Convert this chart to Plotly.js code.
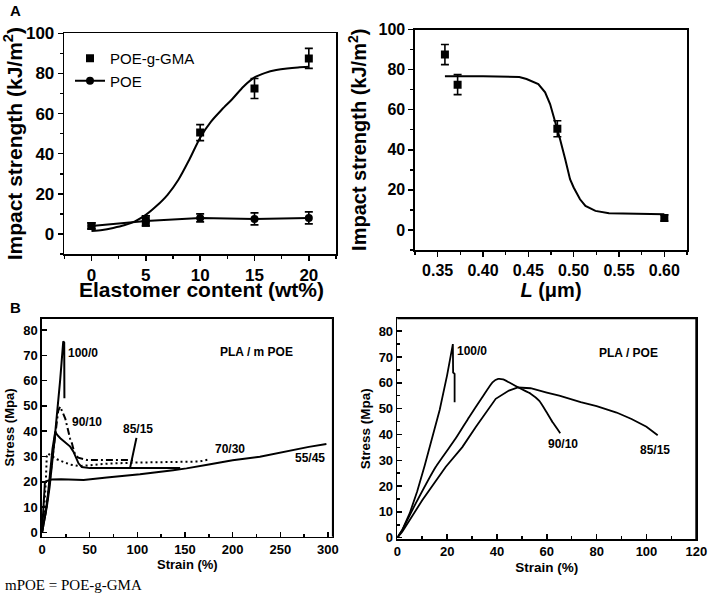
<!DOCTYPE html>
<html>
<head>
<meta charset="utf-8">
<script src="https://cdn.plot.ly/plotly-3.0.1.min.js"></script>
<style>html,body{margin:0;padding:0;background:#fff;}#chart{width:708px;height:595px;}</style>
</head>
<body>
<div id="chart"></div>
<script>
// ---------- Panel A (left): impact strength vs elastomer content ----------
const elastomerContent = [0, 5, 10, 15, 20];
const gmaImpact = [4, 6.5, 50.5, 72.5, 87.5];
const gmaErr = [1.5, 2.5, 4, 5, 5];
const poeImpact = [4, 6.5, 8, 7.5, 8];
const poeErr = [1.5, 2.5, 2, 3, 3];
const gmaFitX = [0, 1, 2, 3, 4, 5, 6, 7, 8, 9, 10, 11, 12, 13, 14, 15, 16, 17, 18, 19, 20];
const gmaFitY = [1.5, 2, 3, 4.3, 6.3, 9.5, 14, 19.5, 27, 37, 48, 56, 62, 67.5, 73.5, 78, 80.3, 81.7, 82.5, 83, 83.3];

// ---------- Panel A (right): impact strength vs L ----------
const ligamentL = [0.358, 0.372, 0.482, 0.600];
const lImpact = [87.5, 72.5, 50.5, 6];
const lErr = [5, 5, 4, 1.5];
const lFitX = [0.358, 0.40, 0.44, 0.448, 0.461, 0.4685, 0.474, 0.4796, 0.485, 0.4907, 0.496, 0.500, 0.507, 0.513, 0.524, 0.539, 0.600];
const lFitY = [76.7, 76.7, 76.3, 75.3, 72.8, 68.7, 62.8, 54.5, 45.3, 35.3, 25.3, 21.2, 15.3, 12, 9.5, 8.3, 7.8];

// ---------- Panel B (left): PLA / mPOE stress-strain ----------
const m100Strain = [0, 2, 5, 8, 11, 13, 15, 17, 19, 20.5, 21.5, 22.3, 23.3, 23.5];
const m100Stress = [0, 4, 10, 18, 28, 36, 44, 51, 60, 67, 72, 75.5, 75, 53];
const m90Strain = [0, 3, 6, 10, 14, 17, 19, 21, 24.4, 26, 27.9, 29.5, 31.4, 34, 38, 47, 70, 92, 98];
const m90Stress = [0, 6, 14, 26, 40, 48, 49.7, 48, 45, 42.5, 39.1, 37, 35.2, 31.5, 29.5, 28.6, 28.6, 28.6, 28.3];
const m85Strain = [0, 3, 6, 9, 11, 13.9, 16, 19.2, 24, 29.6, 33, 36, 38.3, 41.8, 50, 100, 145];
const m85Stress = [0, 6, 14, 24, 33, 39.8, 38.5, 37.2, 35.5, 33.9, 31.9, 29.5, 27.3, 25.8, 25.4, 25.4, 25.4];
const m70Strain = [0, 2, 4, 5, 6, 10, 15.7, 20, 29.6, 40, 50, 70, 100, 140, 165, 175];
const m70Stress = [0, 8, 20, 30, 31.2, 30.2, 28.9, 28.2, 26.8, 26.2, 26.5, 27.2, 27.6, 27.7, 28, 28.8];
const m55Strain = [0, 1, 2, 3, 5, 10, 20, 43.6, 68, 102.8, 137.6, 151.6, 175, 200, 228.6, 260, 280, 298.4];
const m55Stress = [0, 8, 15, 19.5, 20.3, 20.9, 21, 20.7, 21.7, 23, 24.6, 25.3, 26.8, 28.5, 29.9, 32.3, 33.8, 34.9];

// ---------- Panel B (right): PLA / POE stress-strain ----------
const p100Strain = [0, 2, 5, 8, 11, 14, 17, 20, 21.5, 22.3, 22.4, 23, 23, 23];
const p100Stress = [0, 3, 9.5, 18, 28, 38.5, 49.5, 63, 71, 75, 64, 63.5, 60, 52.5];
const p90Strain = [0, 2, 7.4, 15.4, 23.4, 28.8, 34.1, 38.2, 40.5, 42.5, 44.8, 49.8, 53.5, 57, 60, 62.5, 65.4];
const p90Stress = [0, 3, 13.3, 27.4, 38.4, 46.7, 54.4, 60.2, 61.5, 61.3, 60.2, 57.6, 55.8, 53, 48.5, 44.5, 40.5];
const p85Strain = [0, 2, 10, 19.4, 26.1, 31.5, 39.5, 44.8, 48.4, 53.5, 60, 65, 73.6, 80, 88, 94, 100, 104.5];
const p85Stress = [0, 2.3, 14.5, 27.4, 35.1, 42.9, 53.8, 57, 58.2, 57.9, 56.2, 55, 52.5, 51, 48.5, 46, 43, 39.7];

// ---------- helpers ----------
const W = 708, H = 595;
const px = v => v / W;
const py = v => 1 - v / H;
const dx = (l, r) => [px(l), px(r)];
const dy = (t, b) => [py(b), py(t)];
const FONT = 'Liberation Sans, Arial, sans-serif';

// plot-area boxes (pixels): [left, right, top, bottom]
const boxA1 = [64.3, 336, 33.3, 254];
const boxA2 = [415, 687, 29.5, 250];
const boxB1 = [42, 332.7, 318.3, 536.7];
const boxB2 = [397.3, 696.3, 318.3, 539];

function baseAxis(extra) {
  return Object.assign({
    showgrid: false, zeroline: false, showline: true, mirror: true,
    linecolor: '#000', linewidth: 1.6,
    ticks: 'outside', ticklen: 5, tickwidth: 1.5, tickcolor: '#000',
    tickfont: {family: FONT, size: 13, color: '#000', weight: 700},
    fixedrange: true
  }, extra);
}

const lineBlk = (w, dash) => ({color: '#000', width: w, dash: dash || 'solid'});

const traces = [
  // Panel A left
  {x: elastomerContent, y: gmaImpact, xaxis: 'x', yaxis: 'y', type: 'scatter', mode: 'markers', name: 'POE-g-GMA',
   marker: {symbol: 'square', size: 8, color: '#000'},
   error_y: {type: 'data', array: gmaErr, visible: true, color: '#000', thickness: 1.6, width: 4}},
  {x: elastomerContent, y: poeImpact, xaxis: 'x', yaxis: 'y', type: 'scatter', mode: 'lines+markers', name: 'POE',
   line: lineBlk(2), marker: {symbol: 'circle', size: 8, color: '#000'},
   error_y: {type: 'data', array: poeErr, visible: true, color: '#000', thickness: 1.6, width: 4}},
  {x: gmaFitX, y: gmaFitY, xaxis: 'x', yaxis: 'y', type: 'scatter', mode: 'lines', showlegend: false,
   line: Object.assign(lineBlk(2), {shape: 'spline', smoothing: 0.8})},
  // Panel A right
  {x: lFitX, y: lFitY, xaxis: 'x2', yaxis: 'y2', type: 'scatter', mode: 'lines', showlegend: false,
   line: lineBlk(2)},
  {x: ligamentL, y: lImpact, xaxis: 'x2', yaxis: 'y2', type: 'scatter', mode: 'markers', showlegend: false,
   marker: {symbol: 'square', size: 8, color: '#000'},
   error_y: {type: 'data', array: lErr, visible: true, color: '#000', thickness: 1.6, width: 4}},
  // Panel B left
  {x: m100Strain, y: m100Stress, xaxis: 'x3', yaxis: 'y3', type: 'scatter', mode: 'lines', showlegend: false, line: lineBlk(2)},
  {x: m90Strain, y: m90Stress, xaxis: 'x3', yaxis: 'y3', type: 'scatter', mode: 'lines', showlegend: false, line: lineBlk(2, '7px,3px,2px,3px')},
  {x: m85Strain, y: m85Stress, xaxis: 'x3', yaxis: 'y3', type: 'scatter', mode: 'lines', showlegend: false, line: lineBlk(2)},
  {x: m70Strain, y: m70Stress, xaxis: 'x3', yaxis: 'y3', type: 'scatter', mode: 'lines', showlegend: false, line: lineBlk(2, '2px,3px')},
  {x: m55Strain, y: m55Stress, xaxis: 'x3', yaxis: 'y3', type: 'scatter', mode: 'lines', showlegend: false, line: lineBlk(2)},
  // Panel B right
  {x: p100Strain, y: p100Stress, xaxis: 'x4', yaxis: 'y4', type: 'scatter', mode: 'lines', showlegend: false, line: lineBlk(1.8)},
  {x: p90Strain, y: p90Stress, xaxis: 'x4', yaxis: 'y4', type: 'scatter', mode: 'lines', showlegend: false, line: Object.assign(lineBlk(1.8), {shape: 'spline', smoothing: 0.5})},
  {x: p85Strain, y: p85Stress, xaxis: 'x4', yaxis: 'y4', type: 'scatter', mode: 'lines', showlegend: false, line: lineBlk(1.8)}
];

const lbl = (text, x, y, xr, yr, anchor) => ({
  text: text, x: x, y: y, xref: xr, yref: yr, showarrow: false, xanchor: anchor || 'center', yanchor: 'middle',
  font: {family: FONT, size: 12, color: '#000', weight: 700}
});

// frame lines (top and right spines) for the stress-strain panels, in paper coordinates
const frameLines = (b, w) => [
  {type: 'line', xref: 'paper', yref: 'paper', x0: px(b[0]), x1: px(b[1]), y0: py(b[2]), y1: py(b[2]), line: {color: '#000', width: w}, layer: 'above'},
  {type: 'line', xref: 'paper', yref: 'paper', x0: px(b[1]), x1: px(b[1]), y0: py(b[3]), y1: py(b[2]), line: {color: '#000', width: w}, layer: 'above'}
];

const layout = {
  width: W, height: H,
  margin: {l: 0, r: 0, t: 0, b: 0},
  paper_bgcolor: '#fff', plot_bgcolor: 'rgba(0,0,0,0)',
  font: {family: FONT, color: '#000'},
  showlegend: true,
  legend: {x: 70 / W, y: 1 - 42 / H, xanchor: 'left', yanchor: 'top', bgcolor: 'rgba(0,0,0,0)',
           font: {family: FONT, size: 15, color: '#000'}, itemwidth: 30, tracegroupgap: 0},
  xaxis: baseAxis({domain: dx(boxA1[0], boxA1[1]), anchor: 'y', range: [-2.5, 22.5], tick0: 0, dtick: 5,
    minor: {ticks: 'outside', dtick: 2.5, ticklen: 3, tickwidth: 1.5, tickcolor: '#000'},
    tickfont: {family: FONT, size: 17, color: '#000', weight: 700}}),
  yaxis: baseAxis({domain: dy(boxA1[2], boxA1[3]), anchor: 'x', range: [-10, 100], tick0: 0, dtick: 20,
    minor: {ticks: 'outside', dtick: 10, ticklen: 3, tickwidth: 1.5, tickcolor: '#000'},
    tickfont: {family: FONT, size: 17, color: '#000', weight: 700},
    title: {text: 'Impact strength (kJ/m<sup>2</sup>)', font: {family: FONT, size: 21, color: '#000', weight: 700}, standoff: 8}}),
  xaxis2: baseAxis({domain: dx(boxA2[0], boxA2[1]), anchor: 'y2', range: [0.325, 0.625], tick0: 0.35, dtick: 0.05, tickformat: '.2f',
    minor: {ticks: 'outside', dtick: 0.025, ticklen: 3, tickwidth: 1.5, tickcolor: '#000'},
    tickfont: {family: FONT, size: 16, color: '#000', weight: 700},
    title: {text: '<i>L</i> (μm)', font: {family: FONT, size: 20, color: '#000', weight: 700}, standoff: 1}}),
  yaxis2: baseAxis({domain: dy(boxA2[2], boxA2[3]), anchor: 'x2', range: [-10, 100], tick0: 0, dtick: 20,
    minor: {ticks: 'outside', dtick: 10, ticklen: 3, tickwidth: 1.5, tickcolor: '#000'},
    tickfont: {family: FONT, size: 16, color: '#000', weight: 700},
    title: {text: 'Impact strength (kJ/m<sup>2</sup>)', font: {family: FONT, size: 20, color: '#000', weight: 700}, standoff: 6}}),
  xaxis3: baseAxis({domain: dx(boxB1[0], boxB1[1]), anchor: 'y3', range: [0, 305], tick0: 0, dtick: 50, ticks: 'inside', ticklen: 5,
    minor: {ticks: 'inside', dtick: 25, ticklen: 3, tickwidth: 1.5, tickcolor: '#000'},
    title: {text: 'Strain (%)', font: {family: FONT, size: 13, color: '#000', weight: 700}, standoff: 3}}),
  yaxis3: baseAxis({domain: dy(boxB1[2], boxB1[3]), anchor: 'x3', range: [-1.7, 84.6], tick0: 0, dtick: 10, ticks: 'inside', ticklen: 5,
    title: {text: 'Stress (Mpa)', font: {family: FONT, size: 13, color: '#000', weight: 700}, standoff: 6}}),
  xaxis4: baseAxis({domain: dx(boxB2[0], boxB2[1]), anchor: 'y4', range: [0, 120], tick0: 0, dtick: 20, ticks: 'inside', ticklen: 5,
    minor: {ticks: 'inside', dtick: 10, ticklen: 3, tickwidth: 1.5, tickcolor: '#000'},
    title: {text: 'Strain (%)', font: {family: FONT, size: 13.5, color: '#000', weight: 700}, standoff: 4}}),
  yaxis4: baseAxis({domain: dy(boxB2[2], boxB2[3]), anchor: 'x4', range: [-0.5, 85], tick0: 0, dtick: 10, ticks: 'inside', ticklen: 5,
    minor: {ticks: 'inside', dtick: 5, ticklen: 3, tickwidth: 1.5, tickcolor: '#000'},
    title: {text: 'Stress (Mpa)', font: {family: FONT, size: 13.5, color: '#000', weight: 700}, standoff: 5}}),
  shapes: [].concat(frameLines(boxB1, 1.6), frameLines(boxB2, 2)),
  annotations: [
    {text: 'Elastomer content (wt%)', x: 201 / W, y: 1 - 289 / H, xref: 'paper', yref: 'paper', showarrow: false,
     xanchor: 'center', yanchor: 'middle', font: {family: FONT, size: 21, color: '#000', weight: 700}},
    {text: 'A', x: 15 / W, y: 1 - 10 / H, xref: 'paper', yref: 'paper', showarrow: false, xanchor: 'center', yanchor: 'middle',
     font: {family: FONT, size: 15, color: '#000', weight: 700}},
    {text: 'B', x: 15 / W, y: 1 - 307 / H, xref: 'paper', yref: 'paper', showarrow: false, xanchor: 'center', yanchor: 'middle',
     font: {family: FONT, size: 15, color: '#000', weight: 700}},
    {text: 'mPOE = POE-g-GMA', x: 3 / W, y: 1 - 585 / H, xref: 'paper', yref: 'paper', showarrow: false, xanchor: 'left', yanchor: 'middle',
     font: {family: 'Liberation Serif, Times New Roman, serif', size: 15, color: '#000'}},
    // Panel B left labels
    lbl('100/0', 25.4, 70.7, 'x3', 'y3', 'left'),
    lbl('90/10', 29, 43.7, 'x3', 'y3', 'left'),
    Object.assign(lbl('85/15', 92.3, 25.3, 'x3', 'y3'), {showarrow: true, ax: 101, ay: 40.7, axref: 'x3', ayref: 'y3',
      arrowhead: 0, arrowwidth: 2, arrowcolor: '#000', standoff: 0, startstandoff: 0}),
    lbl('70/30', 197, 32.8, 'x3', 'y3'),
    lbl('55/45', 281, 29.5, 'x3', 'y3'),
    lbl('PLA / m POE', 225, 71.4, 'x3', 'y3'),
    // Panel B right labels
    lbl('100/0', 23, 72.5, 'x4', 'y4', 'left'),
    lbl('PLA / POE', 92.6, 71.6, 'x4', 'y4'),
    lbl('90/10', 66.5, 36.4, 'x4', 'y4'),
    lbl('85/15', 103.5, 33.9, 'x4', 'y4')
  ]
};

Plotly.newPlot('chart', traces, layout, {staticPlot: true, displayModeBar: false});
</script>
</body>
</html>
